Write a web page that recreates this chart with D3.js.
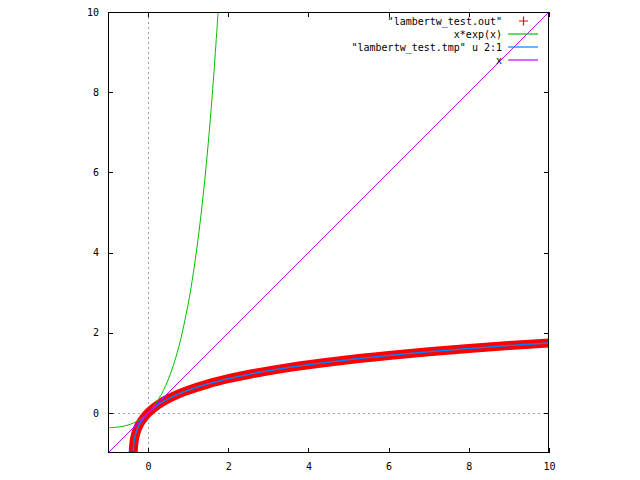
<!DOCTYPE html>
<html>
<head>
<meta charset="utf-8">
<script src="https://cdn.jsdelivr.net/npm/d3@7"></script>
<style>
  body { margin: 0; background: #fff; }
  svg { display: block; }
  text { font-family: "DejaVu Sans Mono", "Liberation Mono", monospace; font-size: 10px; fill: #000; }
</style>
</head>
<body>
<svg id="chart" width="640" height="480"></svg>
<script>
// ---- data ----
const xTicks = [0, 2, 4, 6, 8, 10];
const yTicks = [0, 2, 4, 6, 8, 10];

// "lambertw_test.out" points (x, W(x))
const outX = [-0.3652, -0.36, -0.35, -0.33, -0.3, -0.25, -0.2, -0.1, 0, 0.1, 0.25, 0.5, 0.75, 1, 1.5, 2, 2.5, 3, 3.5, 4, 5, 6, 7, 8, 9, 10];
const outW = [-0.88, -0.806, -0.717, -0.604, -0.489, -0.357, -0.259, -0.112, 0, 0.091, 0.204, 0.352, 0.470, 0.567, 0.726, 0.853, 0.959, 1.050, 1.130, 1.202, 1.327, 1.432, 1.524, 1.606, 1.679, 1.746];

// x*exp(x)
const expX = [-1, -0.75, -0.5, -0.25, 0, 0.25, 0.5, 0.75, 1, 1.1, 1.2, 1.3, 1.4, 1.5, 1.6, 1.7, 1.75];
const expY = [-0.368, -0.354, -0.303, -0.195, 0, 0.321, 0.824, 1.588, 2.718, 3.304, 3.984, 4.770, 5.677, 6.723, 7.925, 9.311, 10.07];

// "lambertw_test.tmp" u 2:1 (column 2 = x, column 1 = W)
const tmpCol1 = [-0.95, -0.88, -0.806, -0.717, -0.604, -0.489, -0.357, -0.259, -0.112, 0, 0.091, 0.204, 0.352, 0.470, 0.567, 0.726, 0.853, 0.959, 1.050, 1.130, 1.202, 1.327, 1.432, 1.524, 1.606, 1.679, 1.746];
const tmpCol2 = [-0.3674, -0.3652, -0.36, -0.35, -0.33, -0.3, -0.25, -0.2, -0.1, 0, 0.1, 0.25, 0.5, 0.75, 1, 1.5, 2, 2.5, 3, 3.5, 4, 5, 6, 7, 8, 9, 10];

// x
const lineX = [-1, 10];
const lineY = [-1, 10];

const legendLabels = ['"lambertw_test.out"', 'x*exp(x)', '"lambertw_test.tmp" u 2:1', 'x'];
const colors = ["#ff0000", "#00c000", "#0080ff", "#c000ff"];

// ---- layout ----
const L = 108, R = 549, T = 12, B = 453;
const svg = d3.select("#chart");
const x = d3.scaleLinear().domain([-1, 10]).range([L, R]);
const y = d3.scaleLinear().domain([-1, 10]).range([B, T]);

svg.append("defs").append("clipPath").attr("id", "clip")
  .append("rect").attr("x", L).attr("y", T).attr("width", R - L).attr("height", B - T);

// zero axes
svg.append("line").attr("x1", x(0) + 0.5).attr("x2", x(0) + 0.5).attr("y1", T).attr("y2", B)
  .attr("stroke", "#a0a0a0").attr("stroke-dasharray", "2,3").attr("shape-rendering", "crispEdges");
svg.append("line").attr("x1", L).attr("x2", R).attr("y1", y(0) + 0.5).attr("y2", y(0) + 0.5)
  .attr("stroke", "#a0a0a0").attr("stroke-dasharray", "2,3").attr("shape-rendering", "crispEdges");

// axes (ticks inward, mirrored)
const tl = 5;
svg.append("g").attr("transform", `translate(0,${B})`)
  .call(d3.axisBottom(x).tickValues(xTicks).tickSize(-tl).tickPadding(10).tickFormat(d3.format("d")))
  .call(g => g.select(".domain").remove());
svg.append("g").attr("transform", `translate(0,${T})`)
  .call(d3.axisTop(x).tickValues(xTicks).tickSize(-tl).tickFormat(""))
  .call(g => g.select(".domain").remove());
svg.append("g").attr("transform", `translate(${L},0)`)
  .call(d3.axisLeft(y).tickValues(yTicks).tickSize(-tl).tickPadding(9).tickFormat(d3.format("d")))
  .call(g => g.select(".domain").remove());
svg.append("g").attr("transform", `translate(${R},0)`)
  .call(d3.axisRight(y).tickValues(yTicks).tickSize(-tl).tickFormat(""))
  .call(g => g.select(".domain").remove());
svg.selectAll(".tick text").attr("font-family", null).attr("font-size", null);
svg.selectAll(".tick line").attr("stroke", "#000").attr("shape-rendering", "crispEdges");

const plot = svg.append("g").attr("clip-path", "url(#clip)");

// red points band
plot.append("path").attr("d", d3.line().x((d, i) => x(outX[i])).y(d => y(d)).curve(d3.curveCatmullRom)(outW))
  .attr("fill", "none").attr("stroke", colors[0]).attr("stroke-width", 9).attr("stroke-linecap", "square");

// x*exp(x)
plot.append("path").attr("d", d3.line().x((d, i) => x(expX[i])).y(d => y(d)).curve(d3.curveCatmullRom)(expY))
  .attr("fill", "none").attr("stroke", colors[1]).attr("stroke-width", 1);

// tmp u 2:1
plot.append("path").attr("d", d3.line().x((d, i) => x(tmpCol2[i])).y(d => y(d)).curve(d3.curveCatmullRom)(tmpCol1))
  .attr("fill", "none").attr("stroke", colors[2]).attr("stroke-width", 1.5);

// x
plot.append("path").attr("d", d3.line().x((d, i) => x(lineX[i])).y((d) => y(d))(lineY))
  .attr("fill", "none").attr("stroke", colors[3]).attr("stroke-width", 1);

// border
svg.append("rect").attr("x", L + 0.5).attr("y", T + 0.5).attr("width", R - L - 1).attr("height", B - T - 1)
  .attr("fill", "none").attr("stroke", "#000").attr("shape-rendering", "crispEdges");

// legend
const legY = [21, 34, 47, 60];
const lg = svg.append("g");
legendLabels.forEach((lab, i) => {
  lg.append("text").attr("x", 502).attr("y", legY[i]).attr("dy", "0.35em")
    .attr("text-anchor", "end").text(lab);
  if (i === 0) {
    lg.append("path").attr("d", `M519,${legY[i]}h9M523.5,${legY[i] - 4.5}v9`)
      .attr("stroke", colors[0]).attr("stroke-width", 1.2).attr("fill", "none");
  } else {
    lg.append("line").attr("x1", 508).attr("x2", 538).attr("y1", legY[i]).attr("y2", legY[i])
      .attr("stroke", colors[i]).attr("stroke-width", 1.2);
  }
});
</script>
</body>
</html>
